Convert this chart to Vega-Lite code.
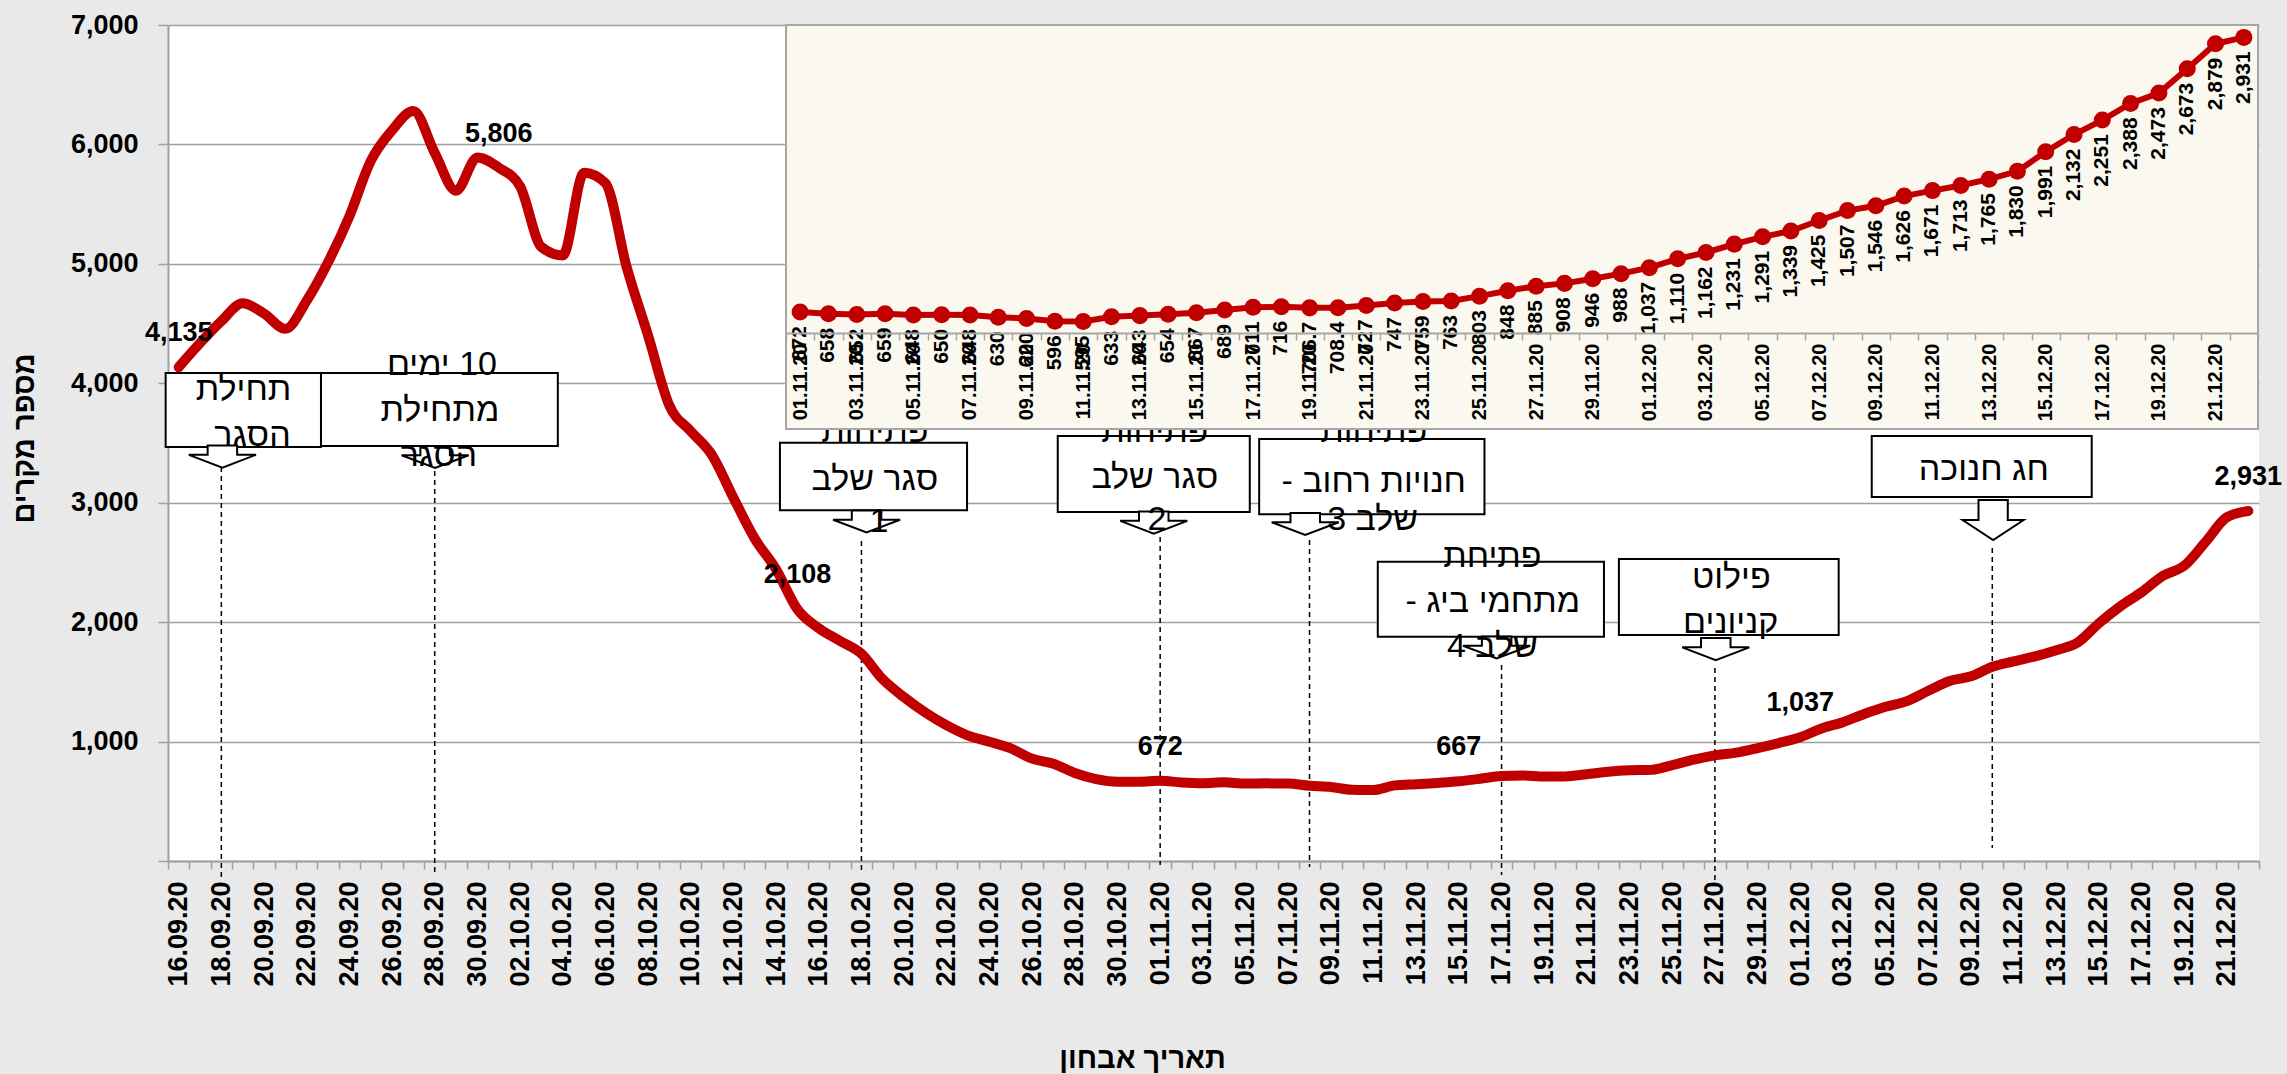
{
  "$schema": "https://vega.github.io/schema/vega-lite/v6.json",
  "width": 2091,
  "height": 836,
  "autosize": {"type": "none"},
  "padding": {"left": 168, "top": 25, "right": 28, "bottom": 213},
  "background": "#e9e9e9",
  "config": {"view": {"fill": "#ffffff", "stroke": null}, "font": "Liberation Sans"},
  "datasets": {
    "series": [
      {"i": 0, "d": "16.09.20", "v": 4135}, {"i": 1, "d": "17.09.20", "v": 4336}, {"i": 2, "d": "18.09.20", "v": 4520}, {"i": 3, "d": "19.09.20", "v": 4670},
      {"i": 4, "d": "20.09.20", "v": 4584}, {"i": 5, "d": "21.09.20", "v": 4456}, {"i": 6, "d": "22.09.20", "v": 4691}, {"i": 7, "d": "23.09.20", "v": 5013},
      {"i": 8, "d": "24.09.20", "v": 5398}, {"i": 9, "d": "25.09.20", "v": 5860}, {"i": 10, "d": "26.09.20", "v": 6118}, {"i": 11, "d": "27.09.20", "v": 6280},
      {"i": 12, "d": "28.09.20", "v": 5930}, {"i": 13, "d": "29.09.20", "v": 5613}, {"i": 14, "d": "30.09.20", "v": 5891}, {"i": 15, "d": "01.10.20", "v": 5806},
      {"i": 16, "d": "02.10.20", "v": 5650}, {"i": 17, "d": "03.10.20", "v": 5141}, {"i": 18, "d": "04.10.20", "v": 5070}, {"i": 19, "d": "05.10.20", "v": 5763},
      {"i": 20, "d": "06.10.20", "v": 5677}, {"i": 21, "d": "07.10.20", "v": 4970}, {"i": 22, "d": "08.10.20", "v": 4400}, {"i": 23, "d": "09.10.20", "v": 3813},
      {"i": 24, "d": "10.10.20", "v": 3599}, {"i": 25, "d": "11.10.20", "v": 3398}, {"i": 26, "d": "12.10.20", "v": 3042}, {"i": 27, "d": "13.10.20", "v": 2699},
      {"i": 28, "d": "14.10.20", "v": 2442}, {"i": 29, "d": "15.10.20", "v": 2108}, {"i": 30, "d": "16.10.20", "v": 1949}, {"i": 31, "d": "17.10.20", "v": 1842},
      {"i": 32, "d": "18.10.20", "v": 1735}, {"i": 33, "d": "19.10.20", "v": 1521}, {"i": 34, "d": "20.10.20", "v": 1371}, {"i": 35, "d": "21.10.20", "v": 1242},
      {"i": 36, "d": "22.10.20", "v": 1135}, {"i": 37, "d": "23.10.20", "v": 1050}, {"i": 38, "d": "24.10.20", "v": 998}, {"i": 39, "d": "25.10.20", "v": 943},
      {"i": 40, "d": "26.10.20", "v": 857}, {"i": 41, "d": "27.10.20", "v": 814}, {"i": 42, "d": "28.10.20", "v": 737}, {"i": 43, "d": "29.10.20", "v": 686},
      {"i": 44, "d": "30.10.20", "v": 664}, {"i": 45, "d": "31.10.20", "v": 664},
      {"i": 46, "d": "01.11.20", "v": 672}, {"i": 47, "d": "02.11.20", "v": 658}, {"i": 48, "d": "03.11.20", "v": 652}, {"i": 49, "d": "04.11.20", "v": 659},
      {"i": 50, "d": "05.11.20", "v": 648}, {"i": 51, "d": "06.11.20", "v": 650}, {"i": 52, "d": "07.11.20", "v": 648}, {"i": 53, "d": "08.11.20", "v": 630},
      {"i": 54, "d": "09.11.20", "v": 620}, {"i": 55, "d": "10.11.20", "v": 596}, {"i": 56, "d": "11.11.20", "v": 595}, {"i": 57, "d": "12.11.20", "v": 633},
      {"i": 58, "d": "13.11.20", "v": 643}, {"i": 59, "d": "14.11.20", "v": 654}, {"i": 60, "d": "15.11.20", "v": 667}, {"i": 61, "d": "16.11.20", "v": 689},
      {"i": 62, "d": "17.11.20", "v": 711}, {"i": 63, "d": "18.11.20", "v": 716}, {"i": 64, "d": "19.11.20", "v": 706.7}, {"i": 65, "d": "20.11.20", "v": 708.4},
      {"i": 66, "d": "21.11.20", "v": 727}, {"i": 67, "d": "22.11.20", "v": 747}, {"i": 68, "d": "23.11.20", "v": 759}, {"i": 69, "d": "24.11.20", "v": 763},
      {"i": 70, "d": "25.11.20", "v": 803}, {"i": 71, "d": "26.11.20", "v": 848}, {"i": 72, "d": "27.11.20", "v": 885}, {"i": 73, "d": "28.11.20", "v": 908},
      {"i": 74, "d": "29.11.20", "v": 946}, {"i": 75, "d": "30.11.20", "v": 988}, {"i": 76, "d": "01.12.20", "v": 1037}, {"i": 77, "d": "02.12.20", "v": 1110},
      {"i": 78, "d": "03.12.20", "v": 1162}, {"i": 79, "d": "04.12.20", "v": 1231}, {"i": 80, "d": "05.12.20", "v": 1291}, {"i": 81, "d": "06.12.20", "v": 1339},
      {"i": 82, "d": "07.12.20", "v": 1425}, {"i": 83, "d": "08.12.20", "v": 1507}, {"i": 84, "d": "09.12.20", "v": 1546}, {"i": 85, "d": "10.12.20", "v": 1626},
      {"i": 86, "d": "11.12.20", "v": 1671}, {"i": 87, "d": "12.12.20", "v": 1713}, {"i": 88, "d": "13.12.20", "v": 1765}, {"i": 89, "d": "14.12.20", "v": 1830},
      {"i": 90, "d": "15.12.20", "v": 1991}, {"i": 91, "d": "16.12.20", "v": 2132}, {"i": 92, "d": "17.12.20", "v": 2251}, {"i": 93, "d": "18.12.20", "v": 2388},
      {"i": 94, "d": "19.12.20", "v": 2473}, {"i": 95, "d": "20.12.20", "v": 2673}, {"i": 96, "d": "21.12.20", "v": 2879}, {"i": 97, "d": "22.12.20", "v": 2931}
    ],
    "boxes": [
      {"x1": -0.61, "x2": 6.67, "y1": 3466, "y2": 4086},
      {"x1": 6.67, "x2": 17.77, "y1": 3475, "y2": 4086},
      {"x1": 28.18, "x2": 36.95, "y1": 2936, "y2": 3503},
      {"x1": 41.2, "x2": 50.2, "y1": 2922, "y2": 3559},
      {"x1": 50.64, "x2": 61.2, "y1": 2903, "y2": 3533},
      {"x1": 56.2, "x2": 66.8, "y1": 1878, "y2": 2506},
      {"x1": 67.5, "x2": 77.8, "y1": 1892, "y2": 2529},
      {"x1": 79.35, "x2": 89.66, "y1": 3048, "y2": 3559}
    ],
    "dashes": [
      {"x": 2, "y1": 3300, "y2": -142},
      {"x": 12, "y1": 3266, "y2": -92},
      {"x": 32, "y1": 2679, "y2": -75},
      {"x": 46, "y1": 2713, "y2": -33},
      {"x": 53, "y1": 2688, "y2": -50},
      {"x": 62, "y1": 1641, "y2": -117},
      {"x": 72, "y1": 1616, "y2": -159},
      {"x": 85, "y1": 2621, "y2": 109}
    ],
    "arrows": [
      {"x": 2.05, "y": 3387, "k": "s"},
      {"x": 12.02, "y": 3383, "k": "s"},
      {"x": 32.24, "y": 2843, "k": "s"},
      {"x": 45.7, "y": 2834, "k": "s"},
      {"x": 52.8, "y": 2822, "k": "s"},
      {"x": 61.77, "y": 1788, "k": "s"},
      {"x": 72.04, "y": 1775, "k": "s"},
      {"x": 85.04, "y": 2855, "k": "b"}
    ],
    "notes": [
      {"t": "תחילת", "x": 3.04, "y": 3946},
      {"t": "הסגר", "x": 3.46, "y": 3559},
      {"t": "\u200f10 ימים\u200f", "x": 12.34, "y": 4153},
      {"t": "מתחילת", "x": 12.24, "y": 3768},
      {"t": "הסגר", "x": 12.2, "y": 3391},
      {"t": "פתיחות", "x": 32.63, "y": 3592},
      {"t": "סגר שלב", "x": 32.63, "y": 3194},
      {"t": "1", "x": 32.82, "y": 2842},
      {"t": "פתיחות", "x": 45.75, "y": 3592},
      {"t": "סגר שלב", "x": 45.75, "y": 3207},
      {"t": "2", "x": 45.85, "y": 2855},
      {"t": "פתיחות", "x": 56.01, "y": 3592},
      {"t": "\u200fחנויות רחוב -\u200f", "x": 56.01, "y": 3176},
      {"t": "\u200fשלב 3\u200f", "x": 55.96, "y": 2855},
      {"t": "פתיחת", "x": 61.57, "y": 2548},
      {"t": "\u200fמתחמי ביג -\u200f", "x": 61.59, "y": 2171},
      {"t": "\u200fשלב 4\u200f", "x": 61.57, "y": 1794},
      {"t": "פילוט", "x": 72.77, "y": 2370},
      {"t": "קניונים", "x": 72.74, "y": 1993},
      {"t": "חג חנוכה", "x": 84.6, "y": 3274}
    ]
  },
  "layer": [
    {
      "data": {"name": "boxes"},
      "mark": {"type": "rect", "fill": "#ffffff", "stroke": "#000000", "strokeWidth": 2},
      "encoding": {
        "x": {"field": "x1", "type": "quantitative", "scale": {"domain": [-0.5, 97.5], "nice": false, "zero": false}, "axis": null},
        "x2": {"field": "x2"},
        "y": {"field": "y1", "type": "quantitative", "scale": {"domain": [0, 7000], "nice": false, "zero": false}, "axis": null},
        "y2": {"field": "y2"}
      }
    },
    {
      "data": {"name": "dashes"},
      "mark": {"type": "rule", "color": "#000000", "strokeWidth": 1.5, "strokeDash": [5, 4]},
      "encoding": {
        "x": {"field": "x", "type": "quantitative", "scale": {"domain": [-0.5, 97.5], "nice": false, "zero": false}, "axis": null},
        "y": {"field": "y1", "type": "quantitative", "scale": {"domain": [0, 7000], "nice": false, "zero": false}, "axis": null},
        "y2": {"field": "y2"}
      }
    },
    {
      "data": {"name": "arrows"},
      "transform": [{"filter": "datum.k == 's'"}],
      "mark": {"type": "point", "shape": "M-0.44,-0.33L0.44,-0.33L0.44,-0.05L1,-0.05L0,0.33L-1,-0.05L-0.44,-0.05Z", "size": 4500, "filled": true, "fill": "#ffffff", "stroke": "#000000", "strokeWidth": 2, "opacity": 1},
      "encoding": {
        "x": {"field": "x", "type": "quantitative", "scale": {"domain": [-0.5, 97.5], "nice": false, "zero": false}, "axis": null},
        "y": {"field": "y", "type": "quantitative", "scale": {"domain": [0, 7000], "nice": false, "zero": false}, "axis": null}
      }
    },
    {
      "data": {"name": "arrows"},
      "transform": [{"filter": "datum.k == 'b'"}],
      "mark": {"type": "point", "shape": "M-0.48,-0.656L0.48,-0.656L0.48,0L1,0L0,0.656L-1,0L-0.48,0Z", "size": 3721, "filled": true, "fill": "#ffffff", "stroke": "#000000", "strokeWidth": 2, "opacity": 1},
      "encoding": {
        "x": {"field": "x", "type": "quantitative", "scale": {"domain": [-0.5, 97.5], "nice": false, "zero": false}, "axis": null},
        "y": {"field": "y", "type": "quantitative", "scale": {"domain": [0, 7000], "nice": false, "zero": false}, "axis": null}
      }
    },
    {
      "data": {"name": "notes"},
      "mark": {"type": "text", "font": "Liberation Sans", "fontSize": 34, "color": "#000000", "align": "center", "baseline": "middle"},
      "encoding": {
        "x": {"field": "x", "type": "quantitative", "scale": {"domain": [-0.5, 97.5], "nice": false, "zero": false}, "axis": null},
        "y": {"field": "y", "type": "quantitative", "scale": {"domain": [0, 7000], "nice": false, "zero": false}, "axis": null},
        "text": {"field": "t"}
      }
    },
    {
      "data": {"name": "series"},
      "mark": {"type": "line", "interpolate": "monotone", "color": "#c00000", "strokeWidth": 10, "strokeCap": "round", "strokeJoin": "round"},
      "encoding": {
        "x": {
          "field": "i", "type": "quantitative",
          "scale": {"domain": [-0.5, 97.5], "nice": false, "zero": false},
          "title": "תאריך אבחון",
          "axis": {
            "orient": "bottom",
            "values": [-0.5,0.5,1.5,2.5,3.5,4.5,5.5,6.5,7.5,8.5,9.5,10.5,11.5,12.5,13.5,14.5,15.5,16.5,17.5,18.5,19.5,20.5,21.5,22.5,23.5,24.5,25.5,26.5,27.5,28.5,29.5,30.5,31.5,32.5,33.5,34.5,35.5,36.5,37.5,38.5,39.5,40.5,41.5,42.5,43.5,44.5,45.5,46.5,47.5,48.5,49.5,50.5,51.5,52.5,53.5,54.5,55.5,56.5,57.5,58.5,59.5,60.5,61.5,62.5,63.5,64.5,65.5,66.5,67.5,68.5,69.5,70.5,71.5,72.5,73.5,74.5,75.5,76.5,77.5,78.5,79.5,80.5,81.5,82.5,83.5,84.5,85.5,86.5,87.5,88.5,89.5,90.5,91.5,92.5,93.5,94.5,95.5,96.5,97.5],
            "labelExpr": "(round(datum.value + 0.5) % 2 == 0 && datum.value < 97) ? timeFormat(datetime(2020, 8, 16 + round(datum.value + 0.5)), '%d.%m.%y') : ''",
            "labelOffset": 10.67,
            "labelAngle": -90, "labelAlign": "right", "labelBaseline": "middle",
            "labelFont": "Liberation Sans", "labelFontWeight": "bold", "labelFontSize": 27, "labelColor": "#000000",
            "labelPadding": 12, "labelOverlap": false, "labelFlush": false, "labelBound": false,
            "tickSize": 8, "tickColor": "#a0a0a0", "tickWidth": 1.5,
            "domainColor": "#a0a0a0", "domainWidth": 2, "grid": false,
            "titleFont": "Liberation Sans", "titleFontSize": 29, "titleFontWeight": "bold", "titleColor": "#000000",
            "titleX": 974, "titleY": 197, "titleBaseline": "middle", "titleAlign": "center"
          }
        },
        "y": {
          "field": "v", "type": "quantitative",
          "scale": {"domain": [0, 7000], "nice": false, "zero": false},
          "title": "מספר מקרים",
          "axis": {
            "orient": "left",
            "values": [0, 1000, 2000, 3000, 4000, 5000, 6000, 7000], "format": ",d",
            "labelExpr": "datum.value == 0 ? '' : datum.label",
            "labelFont": "Liberation Sans", "labelFontWeight": "bold", "labelFontSize": 27, "labelColor": "#000000", "labelPadding": 20,
            "tickSize": 10, "tickColor": "#a0a0a0", "tickWidth": 1.5,
            "grid": true, "gridColor": "#a0a0a0", "gridWidth": 1.5,
            "domainColor": "#a0a0a0", "domainWidth": 2,
            "titleFont": "Liberation Sans", "titleFontSize": 29, "titleFontWeight": "bold", "titleColor": "#000000",
            "titleX": -144, "titleY": 413, "titleBaseline": "middle", "titleAlign": "center", "titleAngle": -90
          }
        }
      }
    },
    {
      "data": {"name": "series"},
      "transform": [{"filter": "indexof([0, 15, 29, 46, 60, 76, 97], datum.i) >= 0"}],
      "mark": {"type": "text", "dy": -34, "font": "Liberation Sans", "fontSize": 27, "fontWeight": "bold", "color": "#000000", "align": "center", "baseline": "middle"},
      "encoding": {
        "x": {"field": "i", "type": "quantitative", "scale": {"domain": [-0.5, 97.5], "nice": false, "zero": false}, "axis": null},
        "y": {"field": "v", "type": "quantitative", "scale": {"domain": [0, 7000], "nice": false, "zero": false}, "axis": null},
        "text": {"field": "v", "type": "quantitative", "format": ","}
      }
    },
    {
      "data": {"values": [{}]},
      "mark": {"type": "rect", "fill": "#fbf9ef", "stroke": "#a6a6a6", "strokeWidth": 2},
      "encoding": {
        "x": {"datum": 45.5, "type": "quantitative", "scale": {"domain": [45.5, 97.5], "range": [618, 2090], "nice": false, "zero": false}, "axis": null},
        "x2": {"datum": 97.5},
        "y": {"datum": 3033, "type": "quantitative", "scale": {"domain": [500, 3000], "range": [308, 4], "nice": false, "zero": false}, "axis": null},
        "y2": {"datum": -289}
      }
    },
    {
      "data": {"name": "series"},
      "transform": [{"filter": "datum.i >= 46"}],
      "mark": {"type": "line", "color": "#c00000", "strokeWidth": 6},
      "encoding": {
        "x": {
          "field": "i", "type": "quantitative",
          "scale": {"domain": [45.5, 97.5], "range": [618, 2090], "nice": false, "zero": false},
          "axis": {
            "orient": "bottom", "offset": -528, "zindex": 1, "title": null,
            "values": [45.5,46.5,47.5,48.5,49.5,50.5,51.5,52.5,53.5,54.5,55.5,56.5,57.5,58.5,59.5,60.5,61.5,62.5,63.5,64.5,65.5,66.5,67.5,68.5,69.5,70.5,71.5,72.5,73.5,74.5,75.5,76.5,77.5,78.5,79.5,80.5,81.5,82.5,83.5,84.5,85.5,86.5,87.5,88.5,89.5,90.5,91.5,92.5,93.5,94.5,95.5,96.5,97.5],
            "labelExpr": "(round(datum.value + 0.5) % 2 == 0 && datum.value < 97) ? timeFormat(datetime(2020, 8, 16 + round(datum.value + 0.5)), '%d.%m.%y') : ''",
            "labelOffset": 14.15,
            "labelAngle": -90, "labelAlign": "right", "labelBaseline": "middle",
            "labelFont": "Liberation Sans", "labelFontWeight": "bold", "labelFontSize": 20, "labelColor": "#000000",
            "labelPadding": 3, "labelOverlap": false, "labelFlush": false, "labelBound": false,
            "tickSize": 7, "tickColor": "#a6a6a6", "tickWidth": 1.5,
            "domainColor": "#a6a6a6", "domainWidth": 2, "grid": false
          }
        },
        "y": {"field": "v", "type": "quantitative", "scale": {"domain": [500, 3000], "range": [308, 4], "nice": false, "zero": false}, "axis": null}
      }
    },
    {
      "data": {"name": "series"},
      "transform": [{"filter": "datum.i >= 46"}],
      "mark": {"type": "point", "filled": true, "color": "#c00000", "size": 290, "opacity": 1},
      "encoding": {
        "x": {"field": "i", "type": "quantitative", "scale": {"domain": [45.5, 97.5], "range": [618, 2090], "nice": false, "zero": false}, "axis": null},
        "y": {"field": "v", "type": "quantitative", "scale": {"domain": [500, 3000], "range": [308, 4], "nice": false, "zero": false}, "axis": null}
      }
    },
    {
      "data": {"name": "series"},
      "transform": [{"filter": "datum.i >= 46"}],
      "mark": {"type": "text", "angle": 270, "align": "right", "baseline": "middle", "yOffset": 14, "font": "Liberation Sans", "fontWeight": "bold", "fontSize": 21, "color": "#000000"},
      "encoding": {
        "x": {"field": "i", "type": "quantitative", "scale": {"domain": [45.5, 97.5], "range": [618, 2090], "nice": false, "zero": false}, "axis": null},
        "y": {"field": "v", "type": "quantitative", "scale": {"domain": [500, 3000], "range": [308, 4], "nice": false, "zero": false}, "axis": null},
        "text": {"field": "v", "type": "quantitative", "format": ","}
      }
    }
  ],
  "resolve": {"scale": {"x": "independent", "y": "independent"}, "axis": {"x": "independent", "y": "independent"}}
}
